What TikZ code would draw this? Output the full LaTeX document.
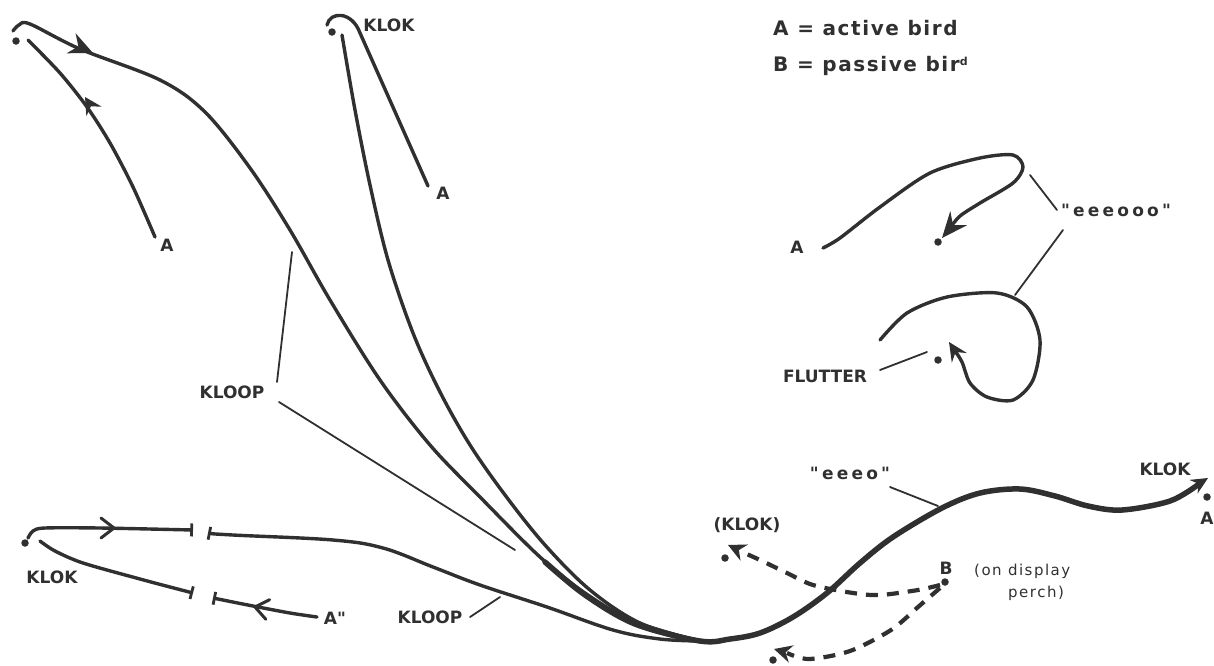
\documentclass[tikz,border=0pt]{standalone}
\usepackage{fontspec}
\setmainfont{DejaVu Sans}
\newfontfamily\capf{DejaVu Sans Bold}
\newfontfamily\spcf{DejaVu Sans Bold}[LetterSpace=19]
\newfontfamily\legf{DejaVu Sans Bold}[LetterSpace=8]
\newfontfamily\thnf{DejaVu Sans}[LetterSpace=10]
\usetikzlibrary{arrows.meta}
\definecolor{inkc}{HTML}{303030}
\tikzset{
  ink/.style={draw=inkc, line width=3.4pt, line cap=round, line join=round},
  ptr/.style={draw=inkc, line width=1.8pt, line cap=round},
  dsh/.style={draw=inkc, line width=4.2pt, dash pattern=on 12pt off 9pt},
  lbl/.style={text=inkc, font=\capf\fontsize{17}{20}\selectfont, inner sep=0pt},
  slbl/.style={text=inkc, font=\spcf\fontsize{17}{20}\selectfont, inner sep=0pt},
  leg/.style={text=inkc, font=\legf\fontsize{20}{22}\selectfont, inner sep=0pt, anchor=west},
  thn/.style={text=inkc, font=\thnf\fontsize{15}{17}\selectfont, inner sep=0pt, anchor=west},
  bird/.style={circle, fill=inkc, minimum size=7.5pt, inner sep=0pt},
  bartip/.tip={Bar[width=13pt,line width=2.8pt]},
  headfill/.style={fill=inkc},
  barbline/.style={draw=inkc, line width=3pt, line cap=round, line join=round},
}
\begin{document}
\begin{tikzpicture}[x=1pt,y=-1pt]
\useasboundingbox (0,0) rectangle (1214,665);

% convergence point
\coordinate (M) at (700,641);

% bird position dots
\node[bird] (d1) at (16,41) {};
\node[bird] (d2) at (332,32) {};
\node[bird] (d3) at (25,543) {};
\node[bird] (d4) at (1207,497) {};
\node[bird] (d5) at (938,242) {};
\node[bird] (d6) at (938,360) {};
\node[bird] (d7) at (725,558) {};
\node[bird] (d8) at (773,660) {};
\node[bird] (dB) at (945,582) {};

% labels
\node[lbl] (aTL) at (167,245) {A};
\node[lbl] (klokT) at (389,25) {KLOK};
\node[lbl] (aT) at (443,193) {A};
\node[leg] (legA) at (773,28) {A = active bird};
\node[leg] (legB) at (773,66) {B = passive bir\raisebox{6pt}{\fontsize{11}{11}\selectfont d}};
\node[slbl] (eo6) at (1116,210) {"eeeooo"};
\node[lbl] (aL) at (797,247) {A};
\node[lbl] (flut) at (825,376) {FLUTTER};
\node[lbl] (kloop1) at (232,392) {KLOOP};
\node[lbl] (klokL) at (52,577) {KLOK};
\node[lbl] (aDQ) at (335,618) {A"};
\node[lbl] (kloop2) at (430,617) {KLOOP};
\node[lbl] (klokP) at (747,525) {(KLOK)};
\node[slbl] (eo4) at (850,473) {"eeeo"};
\node[lbl] (klokR) at (1165,469) {KLOK};
\node[lbl] (aR) at (1207,518) {A};
\node[lbl] (bL) at (946,568) {B};
\node[thn] (disp1) at (974,571) {(on display};
\node[thn] (disp2) at (1008,593) {perch)};

% top-left flight (long KLOOP)
\draw[ink] plot[smooth, tension=0.55] coordinates {(13,31) (19,25) (30,24) (80,49) (160,80) (205,112) (250,168) (290,230) (330,300) (380,380) (430,445) (480,497) (540,557) (585,593) (635,622) (M)};
\fill[headfill, shift={(93,53)}, rotate=-24] (0pt,0pt) -- (-24pt,11pt) -- (-16pt,0pt) -- (-24pt,-11pt) -- cycle;
% top-left approach from A
\draw[ink] plot[smooth] coordinates {(155,237) (133,187) (110,143) (87,107) (60,73) (28,40)};
\fill[headfill, shift={(85,97)}, rotate=122] (0pt,0pt) -- (-17pt,9pt) -- (-11pt,0pt) -- (-17pt,-9pt) -- cycle;

% top-centre approach from A and KLOOP
\draw[ink] (327,25) .. controls (330,11) and (352,11) .. (360,33) -- (428,186);
\draw[ink] plot[smooth, tension=0.55] coordinates {(342,35) (355,110) (370,185) (388,260) (413,333) (440,392) (470,445) (505,495) (545,545) (590,590) (640,623) (M)};

% lower-left flights with break marks
\draw[ink, -bartip] plot[smooth] coordinates {(28,538) (33,531) (45,528) (100,528) (193,530)};
\draw[barbline, shift={(114,528)}] (-13pt,10pt) -- (0pt,0pt) -- (-13pt,-10pt);
\draw[ink, bartip-] plot[smooth, tension=0.6] coordinates {(208,533) (233,535) (333,540) (383,548) (433,567) (480,585) (547,607) (613,630) (660,639) (M)};
\draw[ink, -bartip] plot[smooth] coordinates {(317,617) (290,613) (253,606) (213,598)};
\draw[barbline, shift={(255,607)}, rotate=169] (-13pt,10pt) -- (0pt,0pt) -- (-13pt,-10pt);
\draw[ink, bartip-] plot[smooth] coordinates {(193,593) (140,579) (83,563) (55,551) (40,541)};

% S-shaped display flight to the right (thick where the flights merge)
\coordinate (sEnd) at (1199,484);
\draw[ink, line width=5.5pt] plot[smooth, tension=0.55] coordinates {(545,562) (585,595) (635,624) (M) (730,639) (760,633) (793,617) (827,593) (860,563) (893,537) (942,508) (980,493) (1020,489) (1055,496) (1088,506) (1122,510) (1170,501) (sEnd)};
\fill[headfill, shift={(1208,478)}, rotate=31] (0pt,0pt) -- (-17pt,8pt) -- (-11pt,0pt) -- (-17pt,-8pt) -- cycle;

% passive bird dashed flights
\draw[dsh] plot[smooth] coordinates {(940,585) (918,590) (880,595) (853,593) (813,585) (787,573) (760,560) (740,551)};
\fill[headfill, shift={(728,545)}, rotate=155] (0pt,0pt) -- (-18pt,9pt) -- (-12pt,0pt) -- (-18pt,-9pt) -- cycle;
\draw[dsh] plot[smooth] coordinates {(940,588) (918,607) (891,630) (850,651) (809,659) (787,653)};
\fill[headfill, shift={(774,649)}, rotate=164] (0pt,0pt) -- (-18pt,9pt) -- (-12pt,0pt) -- (-18pt,-9pt) -- cycle;

% top-right loops
\draw[ink] plot[smooth] coordinates {(823,248) (840,238) (880,207) (930,173) (980,158) (1013,155) (1023,167) (1013,183) (980,203) (960,216) (950,228)};
\fill[headfill, shift={(942,238)}, rotate=230] (0pt,0pt) -- (-26pt,11pt) -- (-17pt,0pt) -- (-26pt,-11pt) -- cycle;
\draw[ink] plot[smooth] coordinates {(880,340) (907,313) (947,297) (997,293) (1027,307) (1040,340) (1033,380) (1013,400) (987,397) (970,383) (962,362) (955,351)};
\fill[headfill, shift={(949,342)}, rotate=123] (0pt,0pt) -- (-19pt,9pt) -- (-12pt,0pt) -- (-19pt,-9pt) -- cycle;

% pointer lines
\coordinate (p1a) at (277,382); \coordinate (p1b) at (292,252);
\coordinate (p2a) at (279,402); \coordinate (p2b) at (515,550);
\coordinate (p3a) at (470,617); \coordinate (p3b) at (500,597);
\coordinate (p4a) at (890,487); \coordinate (p4b) at (938,506);
\coordinate (p5a) at (1030,175); \coordinate (p5b) at (1057,210);
\coordinate (p6a) at (1063,230); \coordinate (p6b) at (1015,295);
\coordinate (p7a) at (880,370); \coordinate (p7b) at (927,352);
\draw[ptr] (p1a) -- (p1b);
\draw[ptr] (p2a) -- (p2b);
\draw[ptr] (p3a) -- (p3b);
\draw[ptr] (p4a) -- (p4b);
\draw[ptr] (p5a) -- (p5b);
\draw[ptr] (p6a) -- (p6b);
\draw[ptr] (p7a) -- (p7b);
\end{tikzpicture}
\end{document}
